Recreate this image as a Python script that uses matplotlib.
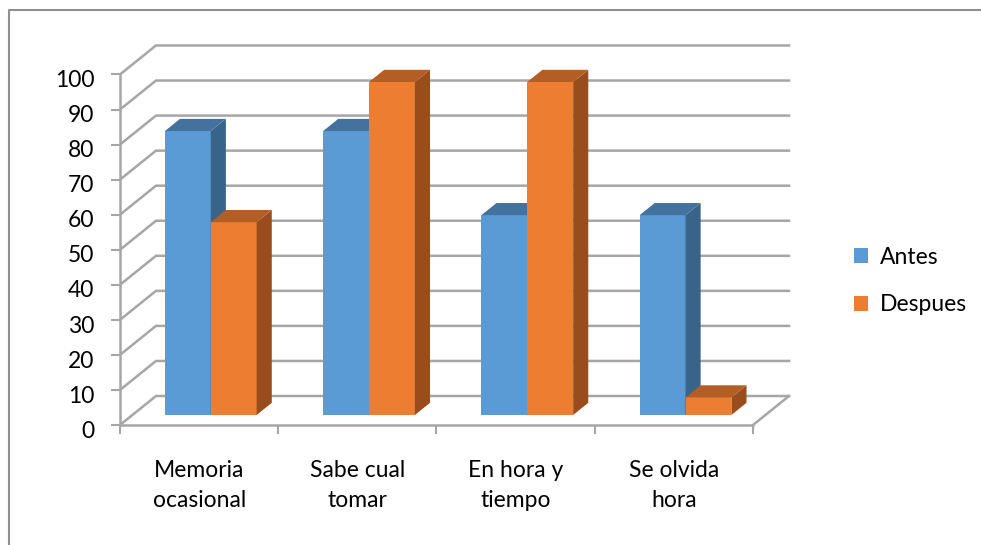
import matplotlib.pyplot as plt
import matplotlib.transforms as mtransforms
from matplotlib.patches import Patch
from matplotlib.lines import Line2D

categories = ["Memoria\nocasional", "Sabe cual\ntomar", "En hora y\ntiempo", "Se olvida\nhora"]
series = ["Antes", "Despues"]
antes = [81, 81, 57, 57]
despues = [55, 95, 95, 5]
yticks = list(range(0, 101, 10))

front_col = ["#5b9bd5", "#ed7d31"]
side_col = ["#386489", "#9a4d1c"]
top_col = ["#44729f", "#b35e24"]
grid_col = "#a6a6a6"
FS = 16.5

plt.rcParams["font.family"] = ["Lato", "DejaVu Sans"]

# oblique projection: depth z in [0, 1] shifts right and up
OX = 0.2275   # x shift (category units) for full depth
OY = 8.27     # y shift (value units) for full depth
Z0, Z1 = 0.345, 0.765   # depth span of the bars
BAR_W = 0.29
GAP = 0.205


def proj(x, v, z):
    return x + z * OX, v + z * OY


def face(ax, pts, color):
    xs, ys = zip(*[proj(*p) for p in pts])
    ax.fill(xs, ys, color=color, lw=0, zorder=3)


fig = plt.figure(figsize=(9.81, 5.45), dpi=100)
ax = fig.add_axes([120 / 981, 120 / 545, 696.3 / 981, 392.6 / 545])
ax.set_xlim(0, 4.4)
ax.set_ylim(0, 112)

n = len(categories)

# side wall and back wall grid
for v in yticks:
    x0, y0 = proj(0, v, 0)
    x1, y1 = proj(0, v, 1)
    x2, y2 = proj(n, v, 1)
    ax.plot([x0, x1, x2], [y0, y1, y2], color=grid_col, lw=1.8, zorder=1,
            solid_joinstyle="miter")
# floor right edge
fx0, fy0 = proj(n, 0, 0)
fx1, fy1 = proj(n, 0, 1)
ax.plot([fx0, fx1], [fy0, fy1], color=grid_col, lw=1.8, zorder=1)

# 3d bars, drawn left to right so later faces cover earlier sides
for i in range(n):
    for j, vals in enumerate([antes, despues]):
        h = vals[i]
        xl = i + GAP + j * BAR_W
        xr = xl + BAR_W
        face(ax, [(xl, 0, Z0), (xr, 0, Z0), (xr, h, Z0), (xl, h, Z0)], front_col[j])
        face(ax, [(xr, 0, Z0), (xr, 0, Z1), (xr, h, Z1), (xr, h, Z0)], side_col[j])
        face(ax, [(xl, h, Z0), (xr, h, Z0), (xr, h, Z1), (xl, h, Z1)], top_col[j])

for s in ["top", "right"]:
    ax.spines[s].set_visible(False)
for s in ["left", "bottom"]:
    ax.spines[s].set_color(grid_col)
    ax.spines[s].set_linewidth(1.8)
ax.spines["left"].set_bounds(0, 100)
ax.spines["bottom"].set_bounds(0, n)

ax.set_yticks(yticks)
ax.set_yticklabels([str(t) for t in yticks])
ax.tick_params(axis="y", length=6.5, width=1.5, color=grid_col, pad=12,
               labelsize=FS, labelcolor="black")
shift = mtransforms.ScaledTranslation(0, -3 / 72, fig.dpi_scale_trans)
for lbl in ax.get_yticklabels():
    lbl.set_transform(lbl.get_transform() + shift)

ax.set_xticks(range(n + 1))
ax.set_xticklabels([""] * (n + 1))
ax.tick_params(axis="x", which="major", length=6.5, width=1.5, color=grid_col)
ax.set_xticks([i + 0.5 for i in range(n)], minor=True)
ax.set_xticklabels(categories, minor=True, linespacing=1.55)
ax.tick_params(axis="x", which="minor", length=0, pad=25, labelsize=FS,
               labelcolor="black")

handles = [Patch(color=c, lw=0) for c in front_col]
ax.legend(handles, series, loc="center left", frameon=False,
          bbox_to_anchor=(854 / 981, 1 - 281 / 545),
          bbox_transform=fig.transFigure, fontsize=FS,
          handlelength=0.62, handleheight=0.62, handletextpad=0.5,
          labelspacing=1.15, borderpad=0, borderaxespad=0)

# chart border
fig.add_artist(Line2D([8.5 / 981, 8.5 / 981, 1.0], [0.0, 1 - 10 / 545, 1 - 10 / 545],
                      color="#8f8f8f", lw=1.5, transform=fig.transFigure))

fig.savefig("out.png", dpi=100)
